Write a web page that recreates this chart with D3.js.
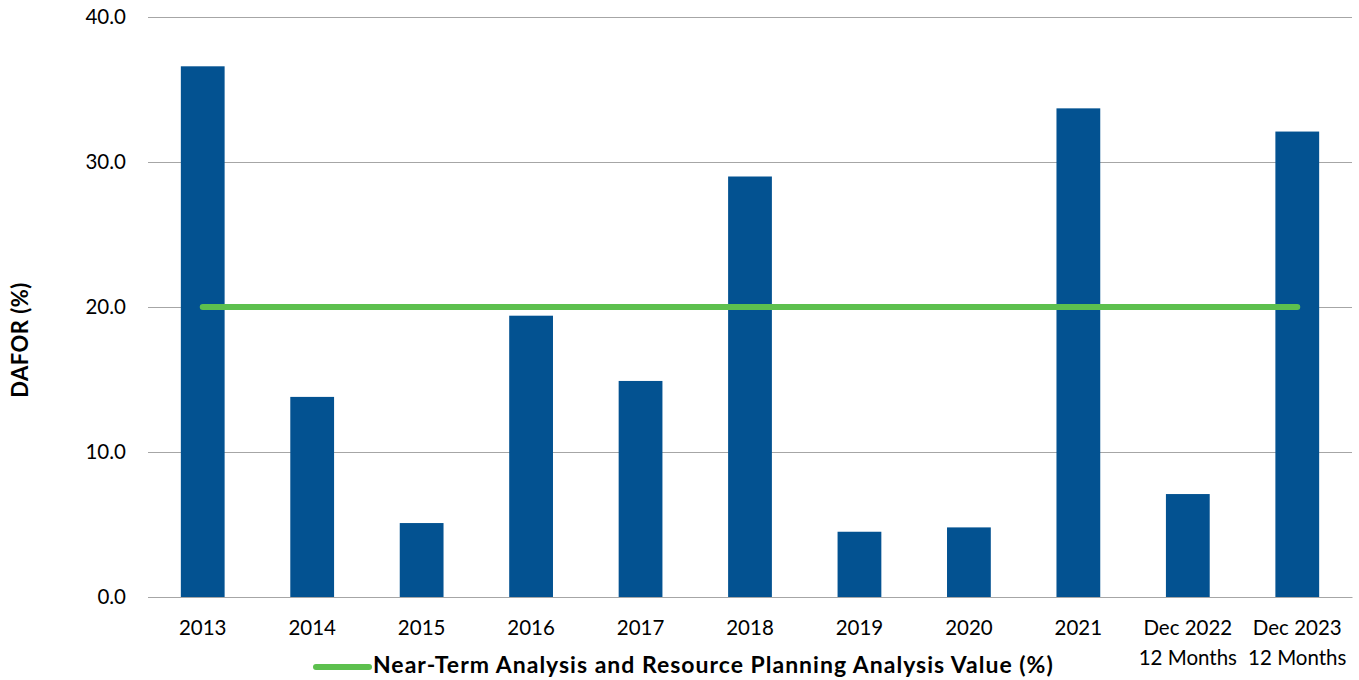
<!DOCTYPE html>
<html><head><meta charset="utf-8">
<script src="https://cdn.jsdelivr.net/npm/d3@7"></script>
<style>body{margin:0;background:#fff;}svg{display:block;}text{font-family:Lato,"Open Sans",sans-serif;}</style>
</head><body>
<svg id="chart" width="1359" height="680"></svg>
<script>
const categories = ["2013","2014","2015","2016","2017","2018","2019","2020","2021","Dec 2022\n12 Months","Dec 2023\n12 Months"];
const dafor = [36.6, 13.8, 5.1, 19.4, 14.9, 29.0, 4.5, 4.8, 33.7, 7.1, 32.1];
const planningValue = [20,20,20,20,20,20,20,20,20,20,20];
const yTicks = [0,10,20,30,40];
const legendLabel = "Near-Term Analysis and Resource Planning Analysis Value (%)";
const yTitle = "DAFOR (%)";

const svg = d3.select("#chart");
const m = {left:148, right:1352, top:17, bottom:597};
const x = d3.scaleBand().domain(categories).range([m.left, m.right]).paddingInner(0.6).paddingOuter(0.3);
const y = d3.scaleLinear().domain([0,40]).range([m.bottom, m.top]);

// gridlines
svg.append("g").selectAll("line").data(yTicks).join("line")
  .attr("x1", m.left).attr("x2", m.right)
  .attr("y1", d=>y(d)).attr("y2", d=>y(d))
  .attr("stroke", "#a6a6a6").attr("stroke-width", 1).attr("shape-rendering","crispEdges");

// y axis labels
const yAxis = d3.axisLeft(y).tickValues(yTicks).tickFormat(d3.format(".1f")).tickSize(0).tickPadding(0);
const ga = svg.append("g").attr("transform", `translate(126,0)`).call(yAxis);
ga.select(".domain").remove();
ga.selectAll("text").attr("font-size", 20.5).attr("fill", "#000").attr("font-family","Lato,sans-serif");

// bars
svg.append("g").selectAll("rect").data(dafor).join("rect")
  .attr("x", (d,i)=>x(categories[i])).attr("width", x.bandwidth())
  .attr("y", d=>y(d)).attr("height", d=>y(0)-y(d))
  .attr("fill", "#035291");

// line
const line = d3.line().x((d,i)=>x(categories[i]) + x.bandwidth()/2).y(d=>y(d));
svg.append("path").datum(planningValue).attr("d", line)
  .attr("fill","none").attr("stroke","#5dc04e").attr("stroke-width",6).attr("stroke-linecap","round");

// x axis
const xAxis = d3.axisBottom(x).tickSize(0).tickPadding(0);
const gx = svg.append("g").attr("transform", `translate(0,${m.bottom})`).call(xAxis);
gx.select(".domain").attr("stroke","#a6a6a6");
gx.selectAll(".tick text").each(function(d){
  const t = d3.select(this); t.text(null).attr("font-size",20.5).attr("fill","#000").attr("font-family","Lato,sans-serif").attr("y",0).attr("dy",null);
  d.split("\n").forEach((s,k)=>t.append("tspan").attr("x",0).attr("y", 38 + k*30).text(s));
});

// y title
svg.append("text").attr("transform","translate(28,340) rotate(-90)").attr("text-anchor","middle")
  .attr("font-size",22).attr("font-weight","bold").attr("letter-spacing",0.5).attr("fill","#000").text(yTitle);

// legend
svg.append("line").attr("x1",316).attr("x2",369).attr("y1",667).attr("y2",667)
  .attr("stroke","#5dc04e").attr("stroke-width",6).attr("stroke-linecap","round");
svg.append("text").attr("x",373).attr("y",673).attr("font-size",23).attr("font-weight","bold").attr("letter-spacing",1).attr("fill","#000").text(legendLabel);
</script>
</body></html>
